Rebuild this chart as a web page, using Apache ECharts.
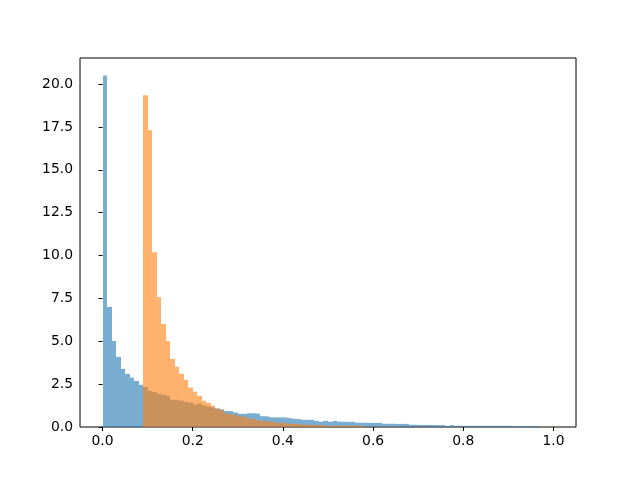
<!DOCTYPE html>
<html>
<head>
<meta charset="utf-8">
<script src="https://cdn.jsdelivr.net/npm/echarts@6/dist/echarts.min.js"></script>
<style>
  html, body { margin: 0; padding: 0; background: #fff; }
  #chart { width: 640px; height: 480px; }
</style>
</head>
<body>
<div id="chart"></div>
<script>
// histogram bins (density), width 0.01
const binWidth = 0.01;
const blueStart = 0.0;
const blueDensity = [
  20.5, 7.0, 5.02, 4.09, 3.39, 3.10, 2.88, 2.69, 2.46, 2.34,
  2.11, 2.05, 1.94, 1.88, 1.82, 1.59, 1.59, 1.53, 1.47, 1.43,
  1.32, 1.37, 1.26, 1.20, 1.14, 1.08, 1.03, 0.93, 0.93, 0.85,
  0.77, 0.77, 0.80, 0.80, 0.78, 0.63, 0.62, 0.57, 0.56, 0.56,
  0.56, 0.52, 0.48, 0.46, 0.42, 0.42, 0.42, 0.36, 0.31, 0.36,
  0.31, 0.36, 0.31, 0.31, 0.30, 0.30, 0.25, 0.25, 0.25, 0.24,
  0.24, 0.24, 0.19, 0.19, 0.19, 0.18, 0.18, 0.18, 0.13, 0.13,
  0.12, 0.12, 0.12, 0.12, 0.11, 0.11, 0.07, 0.11, 0.07, 0.07,
  0.07, 0.07, 0.07, 0.07, 0.07, 0.07, 0.07, 0.07, 0.07, 0.07,
  0.07, 0.06, 0.06, 0.06, 0.06, 0.06, 0.06
];
const orangeStart = 0.09;
const orangeDensity = [
  19.35, 17.31, 10.2, 7.58, 6.01, 5.02, 3.97, 3.51, 3.10, 2.75,
  2.30, 2.06, 1.82, 1.53, 1.41, 1.25, 1.07, 0.98, 0.80, 0.73,
  0.72, 0.62, 0.60, 0.48, 0.48, 0.39, 0.36, 0.35, 0.30, 0.25,
  0.24, 0.24, 0.19, 0.19, 0.18, 0.13, 0.13, 0.12, 0.12, 0.12,
  0.07, 0.07, 0.07, 0.07, 0.07, 0.07, 0.07, 0.07, 0.06,
  0.02, 0.02, 0.02, 0.02, 0.02, 0.02, 0.02, 0.02,
  0.01, 0.01, 0.01, 0.01, 0.01, 0.01, 0.01, 0.01, 0.01, 0.01,
  0.01, 0.01, 0.01, 0.01, 0.01, 0.01, 0.01, 0.01, 0.01, 0.01,
  0.01, 0.01, 0.01, 0.01, 0.01,
  0.01, 0.01, 0.01, 0.01, 0.01, 0.01, 0.01, 0.01, 0.01
];
const xTicks = [0.0, 0.2, 0.4, 0.6, 0.8, 1.0];
const yTicks = [0, 2.5, 5, 7.5, 10, 12.5, 15, 17.5, 20];

function toBins(start, vals) {
  return vals.map((v, i) => [start + i * binWidth, start + (i + 1) * binWidth, v]);
}

function renderBar(params, api) {
  const p0 = api.coord([api.value(0), api.value(2)]);
  const p1 = api.coord([api.value(1), 0]);
  const x0 = Math.round(p0[0]);
  const x1 = Math.round(p1[0]);
  const y0 = p0[1];
  const y1 = Math.round(p1[1]);
  return {
    type: "rect",
    shape: { x: x0, y: y0, width: x1 - x0, height: y1 - y0 },
    style: { fill: api.visual("color") },
  };
}

const font = "DejaVu Sans";
const chart = echarts.init(document.getElementById("chart"), null, { renderer: "canvas" });
chart.setOption({
  animation: false,
  grid: {
    left: 80, right: 64, top: 58, bottom: 53,
    show: true, borderColor: "#000", borderWidth: 1, backgroundColor: "transparent",
  },
  xAxis: {
    type: "value",
    min: -0.05,
    max: 1.05,
    axisLine: { show: false },
    splitLine: { show: false },
    axisTick: { show: true, length: 4, inside: false, customValues: xTicks, lineStyle: { color: "#000" } },
    axisLabel: {
      customValues: xTicks,
      color: "#000", fontFamily: font, fontSize: 13.9, margin: 7,
      formatter: (v) => v.toFixed(1),
    },
  },
  yAxis: {
    type: "value",
    min: 0,
    max: 21.525,
    axisLine: { show: false },
    splitLine: { show: false },
    axisTick: { show: true, length: 4, inside: false, customValues: yTicks, lineStyle: { color: "#000" } },
    axisLabel: {
      customValues: yTicks,
      color: "#000", fontFamily: font, fontSize: 13.9, margin: 7,
      formatter: (v) => v.toFixed(1),
    },
  },
  series: [
    {
      type: "custom",
      renderItem: renderBar,
      itemStyle: { color: "rgba(31,119,180,0.6)" },
      encode: { x: [0, 1], y: 2 },
      data: toBins(blueStart, blueDensity),
    },
    {
      type: "custom",
      renderItem: renderBar,
      itemStyle: { color: "rgba(255,127,14,0.6)" },
      encode: { x: [0, 1], y: 2 },
      data: toBins(orangeStart, orangeDensity),
    },
  ],
});
</script>
</body>
</html>
